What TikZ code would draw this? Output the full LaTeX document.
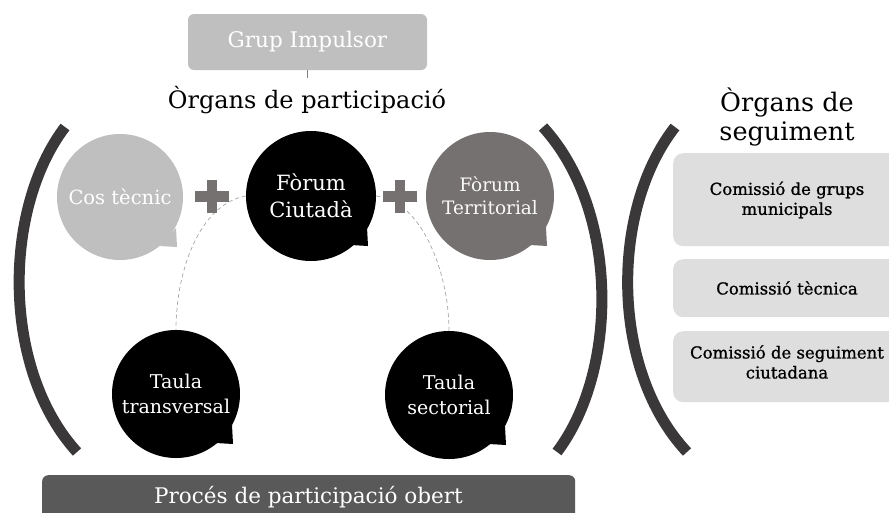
\documentclass[tikz,border=0pt]{standalone}
\usepackage{fontspec}
\setmainfont{DejaVu Serif}
\newfontfamily\semib[FakeBold=1]{DejaVu Serif}
\usetikzlibrary{calc}
\pgfdeclarelayer{background}
\pgfsetlayers{background,main}
\definecolor{lgray}{HTML}{BFBFBF}
\definecolor{mgray}{HTML}{767171}
\definecolor{dgray}{HTML}{595959}
\definecolor{brk}{HTML}{3A3838}
\definecolor{boxg}{HTML}{DEDEDE}
\definecolor{dashc}{HTML}{A6A6A6}
\newcommand\bubtail[2]{\fill[#2] ($(#1.center)+(56,31)$) -- ($(#1.center)+(57,50)$) -- ($(#1.center)+(40,49)$) -- cycle;}
\newcommand\plussign[2]{\fill[mgray] (#1-17,#2-5.5) rectangle (#1+17,#2+5.5); \fill[mgray] (#1-5,#2-16.5) rectangle (#1+5,#2+16.5);}
\begin{document}
\begin{tikzpicture}[x=1pt,y=-1pt,
  bubble/.style={circle, minimum size=128pt, inner sep=0pt, align=center, text=white},
  bracket/.style={draw=brk, line width=11pt},
  seg/.style={draw=dashc, line width=0.7pt, dash pattern=on 4pt off 3pt},
  sbox/.style={fill=boxg, rounded corners=10pt, inner sep=0pt},
  stext/.style={align=center, font=\semib\fontsize{16.5}{20}\selectfont},
  title/.style={align=center, font=\fontsize{24}{29}\selectfont}]
\useasboundingbox (0,0) rectangle (889,512);

% top
\node[fill=lgray, rounded corners=6pt, minimum width=239pt, minimum height=56pt, inner sep=0pt,
      text=white, font=\fontsize{21.5}{25}\selectfont] (gi) at (307.5,42) {Grup Impulsor};
\coordinate (gibot) at (307.5,78);
\draw[gray, line width=0.6pt] (gi.south) -- (gibot);
\node[title] (op) at (307,100) {Òrgans de participació};

% brackets
\draw[bracket] (65,127) .. controls (2,210) and (2,370) .. (77,452);
\draw[bracket] (543,127) .. controls (619,210) and (619,370) .. (557,452);
\draw[bracket] (675,127) .. controls (610,210) and (610,370) .. (687,452);

% bubbles
\node[bubble, fill=lgray, minimum size=126pt, font=\fontsize{19.5}{21}\selectfont] (ct) at (120,197) {Cos tècnic};
\bubtail{ct}{lgray}
\node[bubble, fill=black, minimum size=130pt, font=\fontsize{21}{27}\selectfont] (fc) at (311,196) {Fòrum\\Ciutadà};
\bubtail{fc}{black}
\node[bubble, fill=mgray, text={white!95!gray}, font=\fontsize{18.5}{23}\selectfont] (ft) at (490,196) {Fòrum\\Territorial};
\bubtail{ft}{mgray}
\node[bubble, fill=black, font=\fontsize{19}{25}\selectfont] (tt) at (176,394) {Taula\\transversal};
\bubtail{tt}{black}
\node[bubble, fill=black, font=\fontsize{19}{25}\selectfont] (ts) at (449,395) {Taula\\sectorial};
\bubtail{ts}{black}

\plussign{212}{196.5}
\plussign{400}{196.5}

\begin{pgfonlayer}{background}
\draw[seg] (fc.west) .. controls (200,204) and (176,270) .. (tt.north);
\draw[seg] (fc.east) .. controls (420,200) and (449,270) .. (ts.north);
\end{pgfonlayer}

% bottom bar
\node[fill=dgray, rounded corners=6pt, minimum width=533pt, minimum height=50pt, inner sep=0pt,
      anchor=north west] (pb) at (42,475) {};
\node[text=white, font=\fontsize{21.5}{26}\selectfont] (pbt) at (308.5,497) {Procés de participació obert};

% right
\node[title, font=\fontsize{25.5}{29}\selectfont] (os) at (787,117) {Òrgans de\\seguiment};
\node[sbox, minimum width=240pt, minimum height=93pt, anchor=north west] (b1) at (673,153) {};
\node[stext] (b1t) at (787,200) {Comissió de grups\\municipals};
\node[sbox, minimum width=240pt, minimum height=58pt, anchor=north west] (b2) at (673,259) {};
\node[stext] (b2t) at (787,288) {Comissió tècnica};
\node[sbox, minimum width=240pt, minimum height=71pt, anchor=north west] (b3) at (673,331) {};
\node[stext] (b3t) at (787,362) {Comissió de seguiment\\ciutadana};
\end{tikzpicture}
\end{document}
